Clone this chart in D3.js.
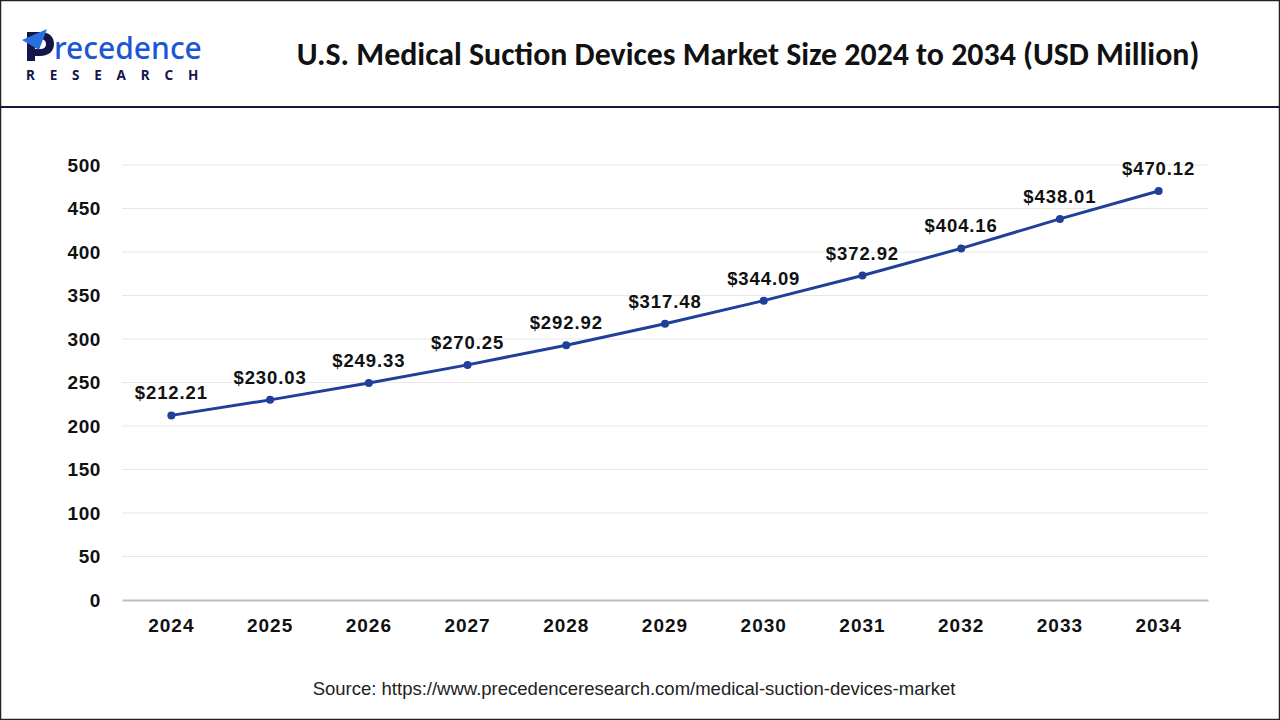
<!DOCTYPE html>
<html>
<head>
<meta charset="utf-8">
<script src="https://cdn.jsdelivr.net/npm/d3@7"></script>
<style>
  body { margin: 0; background: #fff; }
  svg { display: block; font-family: Arial, "Liberation Sans", sans-serif; }
</style>
</head>
<body>
<svg width="1280" height="720"></svg>
<script>
const years = ["2024", "2025", "2026", "2027", "2028", "2029", "2030", "2031", "2032", "2033", "2034"];
const values = [212.21, 230.03, 249.33, 270.25, 292.92, 317.48, 344.09, 372.92, 404.16, 438.01, 470.12];
const yTicks = [0, 50, 100, 150, 200, 250, 300, 350, 400, 450, 500];

const svg = d3.select("svg");

// outer frame and header rule
svg.append("rect")
    .attr("x", 0.5).attr("y", 0.5)
    .attr("width", 1279).attr("height", 719)
    .attr("fill", "none").attr("stroke", "#222").attr("stroke-width", 1.5);
svg.append("line")
    .attr("x1", 0).attr("x2", 1280)
    .attr("y1", 107).attr("y2", 107)
    .attr("stroke", "#14163a").attr("stroke-width", 2);

// logo: the big "P" is drawn as a shape, the rest as text
const logo = svg.append("g");
logo.append("path")
    .attr("d", "M27 32 H40 C50 32 54 37 54 44 C54 51 49 56 40 56 H35 V61 H27 Z M35 39 V49 H40 C44 49 46 47 46 44 C46 41 44 39 40 39 Z")
    .attr("fill", "#14164a")
    .attr("fill-rule", "evenodd");
logo.append("path")
    .attr("d", "M22 40 L47 29 L39 50 Z")
    .attr("fill", "#2a6fe0");
logo.append("text")
    .attr("x", 54).attr("y", 59)
    .attr("font-family", "'Noto Sans', sans-serif")
    .attr("font-size", 30).attr("font-weight", 500)
    .attr("fill", "#1a56d6")
    .text("recedence");
logo.append("text")
    .attr("x", 26).attr("y", 80)
    .attr("font-family", "'Noto Sans', sans-serif")
    .attr("font-size", 13.5).attr("font-weight", 700)
    .attr("letter-spacing", 14.8)
    .attr("fill", "#14164a")
    .text("RESEARCH");

// title
const title = svg.append("text")
    .attr("x", 748).attr("y", 65)
    .attr("text-anchor", "middle")
    .attr("font-family", "Carlito, Lato, 'Open Sans', sans-serif")
    .attr("font-size", 29).attr("font-weight", 700)
    .attr("fill", "#111")
    .text("U.S. Medical Suction Devices Market Size 2024 to 2034 (USD Million)");
const tw = title.node().getComputedTextLength();
title.attr("font-size", 29 * 903 / tw);

const margin = { left: 122, right: 72, top: 165, bottom: 120 };
const width = 1280 - margin.left - margin.right,
      height = 720 - margin.top - margin.bottom;

const x = d3.scaleBand().domain(years).range([0, width]).padding(0);
const y = d3.scaleLinear().domain([0, 500]).range([height, 0]);

const g = svg.append("g").attr("transform", `translate(${margin.left},${margin.top})`);

// gridlines
g.append("g")
    .selectAll("line")
    .data(yTicks.filter(t => t > 0))
    .join("line")
    .attr("x1", 0).attr("x2", width)
    .attr("y1", d => y(d)).attr("y2", d => y(d))
    .attr("stroke", "#e8e8e8").attr("stroke-width", 1);

// y axis
const yAxis = g.append("g")
    .call(d3.axisLeft(y).tickValues(yTicks).tickSize(0).tickPadding(21));
yAxis.select(".domain").remove();
yAxis.selectAll("text")
    .attr("font-size", 19).attr("font-weight", 700)
    .attr("letter-spacing", 0.6)
    .attr("fill", "#111")
    .attr("font-family", "Arial, 'Liberation Sans', sans-serif");

// x axis
const xAxis = g.append("g")
    .attr("transform", `translate(0,${height})`)
    .call(d3.axisBottom(x).tickSize(0).tickPadding(19));
xAxis.select(".domain").attr("stroke", "#bdbdbd").attr("stroke-width", 2);
xAxis.selectAll("text")
    .attr("font-size", 19).attr("font-weight", 700)
    .attr("letter-spacing", 1)
    .attr("fill", "#111")
    .attr("font-family", "Arial, 'Liberation Sans', sans-serif");

const cx = (d, i) => x(years[i]) + x.bandwidth() / 2;

// line
g.append("path")
    .datum(values)
    .attr("fill", "none")
    .attr("stroke", "#1f3f99")
    .attr("stroke-width", 3)
    .attr("d", d3.line().x(cx).y(d => y(d)));

// points
g.selectAll("circle.pt")
    .data(values)
    .join("circle")
    .attr("class", "pt")
    .attr("cx", cx)
    .attr("cy", d => y(d))
    .attr("r", 4)
    .attr("fill", "#1f3f99");

// data labels
g.selectAll("text.lbl")
    .data(values)
    .join("text")
    .attr("class", "lbl")
    .attr("x", cx)
    .attr("y", d => y(d) - 16)
    .attr("text-anchor", "middle")
    .attr("font-size", 18.5).attr("font-weight", 700)
    .attr("letter-spacing", 0.9)
    .attr("fill", "#111")
    .text(d => "$" + d.toFixed(2));

// source
svg.append("text")
    .attr("x", 634).attr("y", 695)
    .attr("text-anchor", "middle")
    .attr("font-size", 18.5)
    .attr("fill", "#222")
    .text("Source: https://www.precedenceresearch.com/medical-suction-devices-market");
</script>
</body>
</html>
